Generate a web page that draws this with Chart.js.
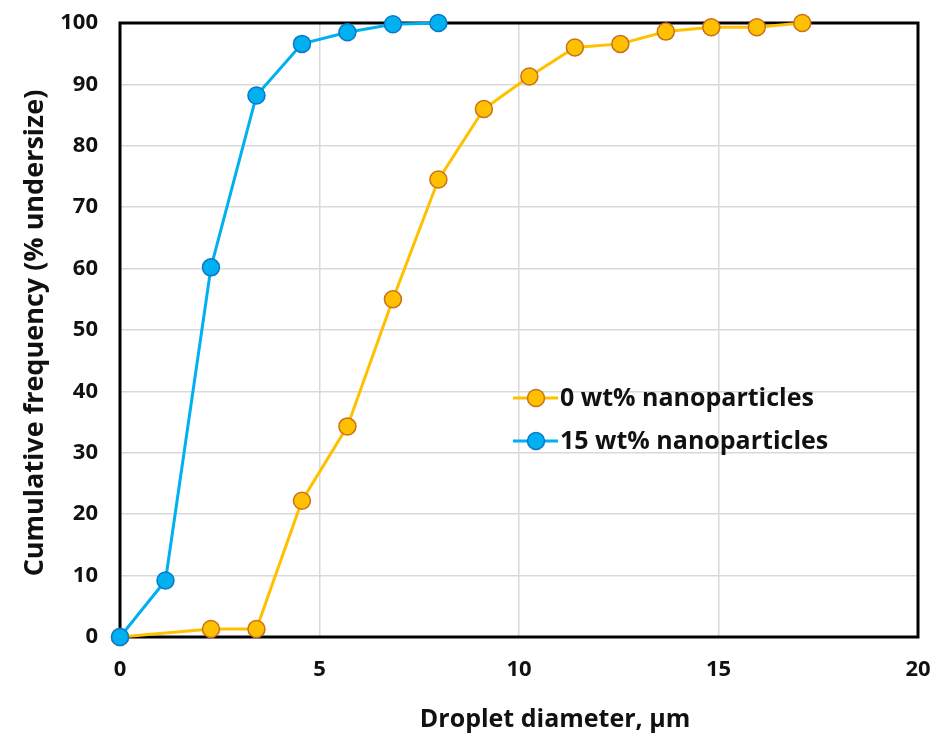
<!DOCTYPE html>
<html>
<head>
<meta charset="utf-8">
<script src="https://cdn.jsdelivr.net/npm/chart.js@4.4.1/dist/chart.umd.min.js"></script>
<style>
  html, body { margin: 0; padding: 0; background: #fff; }
  #wrap { width: 935px; height: 738px; }
</style>
</head>
<body>
<div id="wrap"><canvas id="chart" width="935" height="738"></canvas></div>
<script>
// Data
const xNoParticles = [0, 2.28, 3.42, 4.56, 5.7, 6.84, 7.98, 9.12, 10.26, 11.4, 12.54, 13.68, 14.82, 15.96, 17.1]
const yNoParticles = [0, 1.3, 1.3, 22.2, 34.3, 55.0, 74.5, 86.0, 91.3, 96.0, 96.6, 98.6, 99.3, 99.3, 100]
const xParticles = [0, 1.14, 2.28, 3.42, 4.56, 5.7, 6.84, 7.98]
const yParticles = [0, 9.2, 60.2, 88.2, 96.6, 98.5, 99.8, 100]
const seriesLabels = ["0 wt% nanoparticles", "15 wt% nanoparticles"]
const xTicks = [0, 5, 10, 15, 20]
const yTicks = [0, 10, 20, 30, 40, 50, 60, 70, 80, 90, 100]
const xTitle = "Droplet diameter, µm"
const yTitle = "Cumulative frequency (% undersize)"

const FONT = "'Open Sans', 'Noto Sans', sans-serif"
const ORANGE = "#FFC000"
const ORANGE_EDGE = "#C8701A"
const BLUE = "#00B0F0"
const BLUE_EDGE = "#0A78C8"

function toPoints(xs, ys) {
  return xs.map((x, i) => ({ x: x, y: ys[i] }))
}

// frame round the plot area, axis titles and the legend inside the plot
const framePlugin = {
  id: "frame",
  beforeDatasetsDraw(chart) {
    const { ctx, chartArea } = chart
    ctx.save()
    ctx.strokeStyle = "#000"
    ctx.lineWidth = 3
    ctx.strokeRect(chartArea.left, chartArea.top, chartArea.right - chartArea.left, chartArea.bottom - chartArea.top)
    ctx.restore()
  },
  afterDraw(chart) {
    const { ctx } = chart
    ctx.save()
    ctx.fillStyle = "#111"
    ctx.textBaseline = "middle"
    ctx.textAlign = "center"
    ctx.font = "bold 25px " + FONT
    ctx.fillText(xTitle, 555, 720)

    ctx.save()
    ctx.translate(35, 333)
    ctx.rotate(-Math.PI / 2)
    ctx.font = "bold 27px " + FONT
    ctx.fillText(yTitle, 0, 0)
    ctx.restore()

    const items = [
      { label: seriesLabels[0], fill: ORANGE, edge: ORANGE_EDGE, y: 398 },
      { label: seriesLabels[1], fill: BLUE, edge: BLUE_EDGE, y: 441 },
    ]
    items.forEach((it) => {
      ctx.strokeStyle = it.fill
      ctx.lineWidth = 3
      ctx.beginPath()
      ctx.moveTo(513, it.y)
      ctx.lineTo(558, it.y)
      ctx.stroke()
      ctx.beginPath()
      ctx.arc(536, it.y, 8.5, 0, Math.PI * 2)
      ctx.fillStyle = it.fill
      ctx.fill()
      ctx.lineWidth = 1.5
      ctx.strokeStyle = it.edge
      ctx.stroke()
      ctx.fillStyle = "#111"
      ctx.font = "bold 25px " + FONT
      ctx.textAlign = "left"
      ctx.fillText(it.label, 560, it.y + 1)
    })
    ctx.restore()
  },
}

new Chart(document.getElementById("chart"), {
  type: "scatter",
  data: {
    datasets: [
      {
        label: seriesLabels[0],
        data: toPoints(xNoParticles, yNoParticles),
        showLine: true,
        clip: false,
        order: 1,
        borderColor: ORANGE,
        borderWidth: 3,
        pointBackgroundColor: ORANGE,
        pointBorderColor: ORANGE_EDGE,
        pointBorderWidth: 1.5,
        pointRadius: 8.5,
        tension: 0,
      },
      {
        label: seriesLabels[1],
        data: toPoints(xParticles, yParticles),
        showLine: true,
        clip: false,
        order: 0,
        borderColor: BLUE,
        borderWidth: 3,
        pointBackgroundColor: BLUE,
        pointBorderColor: BLUE_EDGE,
        pointBorderWidth: 1.5,
        pointRadius: 8.5,
        tension: 0,
      },
    ],
  },
  options: {
    responsive: false,
    animation: false,
    layout: { padding: { top: 23, right: 17, left: 0, bottom: 0 } },
    plugins: {
      legend: { display: false },
      tooltip: { enabled: false },
    },
    scales: {
      x: {
        type: "linear",
        min: 0,
        max: 20,
        afterBuildTicks: (axis) => { axis.ticks = xTicks.map((v) => ({ value: v })) },
        afterFit: (axis) => {
          axis.height = 101
          axis.paddingLeft = 0
          axis.paddingRight = 0
        },
        grid: { color: "#d9d9d9", lineWidth: 1.5, drawTicks: false },
        border: { display: false },
        ticks: { color: "#111", padding: 20, font: { family: FONT, size: 22, weight: "bold" } },
      },
      y: {
        type: "linear",
        min: 0,
        max: 100,
        afterBuildTicks: (axis) => { axis.ticks = yTicks.map((v) => ({ value: v })) },
        afterFit: (axis) => {
          axis.width = 120
          axis.paddingTop = 0
          axis.paddingBottom = 0
        },
        grid: { color: "#d9d9d9", lineWidth: 1.5, drawTicks: false },
        border: { display: false },
        ticks: { color: "#111", padding: 22, font: { family: FONT, size: 22, weight: "bold" } },
      },
    },
  },
  plugins: [framePlugin],
})
</script>
</body>
</html>
